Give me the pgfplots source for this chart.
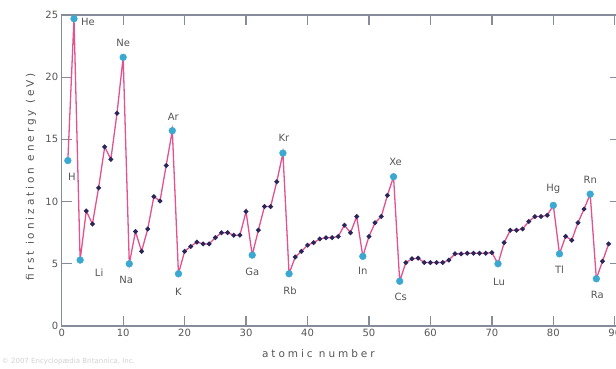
\documentclass[border=0pt]{standalone}
\usepackage{fontspec}
\setmainfont{DejaVu Sans}
\newfontfamily\spacedfont[LetterSpace=28]{DejaVu Sans}
\usepackage{pgfplots}
\pgfplotsset{compat=1.18}
\definecolor{tickgray}{HTML}{868C9A}
\definecolor{linepink}{HTML}{E2528E}
\definecolor{dotnavy}{HTML}{2A265C}
\definecolor{cyanmark}{HTML}{3AA8D0}
\definecolor{txtgray}{HTML}{555555}
\begin{document}
\begin{tikzpicture}
\begin{axis}[
  scale only axis, width=558pt, height=311pt,
  xmin=0, xmax=90.8, ymin=0, ymax=25,
  xtick={0,10,...,90}, ytick={0,5,...,25},
  xtick pos=both, ytick pos=both,
  tick align=inside,
  major tick length=10pt,
  tick style={draw=tickgray, line width=1.3pt},
  axis line style={draw=tickgray, line width=1.4pt},
  ticklabel style={font=\fontsize{10}{12}\selectfont, text=txtgray},
  /pgf/number format/assume math mode=true,
  xlabel={atomic number},
  ylabel={first ionization energy (eV)},
  xlabel style={font=\spacedfont\fontsize{10.5}{12}\selectfont, text=txtgray, at={(axis description cs:0.46,-0.09)}, anchor=center},
  ylabel style={font=\spacedfont\fontsize{10.5}{12}\selectfont, text=txtgray, at={(axis description cs:-0.055,0.48)}, anchor=center},
  clip=false,
]
\addplot[linepink, line width=1.3pt, mark=*, mark size=1.7pt, mark options={draw=dotnavy, fill=dotnavy}] coordinates {
(1,13.3) (2,24.7) (3,5.3) (4,9.25) (5,8.2) (6,11.1) (7,14.4) (8,13.4) (9,17.1) (10,21.6)
(11,5.0) (12,7.6) (13,6.0) (14,7.8) (15,10.4) (16,10.05) (17,12.9) (18,15.7) (19,4.2) (20,6.0)
(21,6.4) (22,6.75) (23,6.6) (24,6.6) (25,7.1) (26,7.5) (27,7.5) (28,7.3) (29,7.3) (30,9.2)
(31,5.7) (32,7.7) (33,9.6) (34,9.6) (35,11.6) (36,13.9) (37,4.2) (38,5.55) (39,6.0) (40,6.5)
(41,6.7) (42,7.0) (43,7.1) (44,7.1) (45,7.2) (46,8.1) (47,7.5) (48,8.8) (49,5.6) (50,7.2)
(51,8.3) (52,8.8) (53,10.5) (54,12.0) (55,3.6) (56,5.1) (57,5.4) (58,5.45) (59,5.1) (60,5.1)
(61,5.1) (62,5.1) (63,5.3) (64,5.8) (65,5.8) (66,5.85) (67,5.85) (68,5.85) (69,5.85) (70,5.9)
(71,5.0) (72,6.7) (73,7.7) (74,7.7) (75,7.8) (76,8.4) (77,8.8) (78,8.8) (79,8.9) (80,9.7)
(81,5.8) (82,7.2) (83,6.9) (84,8.3) (85,9.4) (86,10.6) (87,3.8) (88,5.2) (89,6.6)
};
\addplot[only marks, mark=*, mark size=3.4pt, mark options={draw=cyanmark, fill=cyanmark}] coordinates {
(1,13.3) (2,24.7) (3,5.3) (10,21.6) (11,5.0) (18,15.7) (19,4.2) (31,5.7) (36,13.9) (37,4.2)
(49,5.6) (54,12.0) (55,3.6) (71,5.0) (80,9.7) (81,5.8) (86,10.6) (87,3.8)
};
\tikzset{lbl/.style={font=\fontsize{10}{12}\selectfont, text=txtgray, inner sep=0pt}}
\node[lbl, xshift=4pt, yshift=-16pt] at (axis cs:1,13.3) {H};
\node[lbl, anchor=west, xshift=7pt, yshift=-3pt] at (axis cs:2,24.7) {He};
\node[lbl, yshift=14pt] at (axis cs:10,21.6) {Ne};
\node[lbl, xshift=1pt, yshift=14pt] at (axis cs:18,15.7) {Ar};
\node[lbl, xshift=1pt, yshift=15pt] at (axis cs:36,13.9) {Kr};
\node[lbl, xshift=2pt, yshift=15pt] at (axis cs:54,12.0) {Xe};
\node[lbl, yshift=16pt] at (axis cs:80,9.7) {Hg};
\node[lbl, yshift=14pt] at (axis cs:86,10.6) {Rn};
\node[lbl, xshift=19pt, yshift=-13pt] at (axis cs:3,5.3) {Li};
\node[lbl, xshift=-3pt, yshift=-16pt] at (axis cs:11,5.0) {Na};
\node[lbl, yshift=-18pt] at (axis cs:19,4.2) {K};
\node[lbl, yshift=-17pt] at (axis cs:31,5.7) {Ga};
\node[lbl, xshift=1pt, yshift=-17pt] at (axis cs:37,4.2) {Rb};
\node[lbl, yshift=-15pt] at (axis cs:49,5.6) {In};
\node[lbl, xshift=1pt, yshift=-16pt] at (axis cs:55,3.6) {Cs};
\node[lbl, xshift=1pt, yshift=-18pt] at (axis cs:71,5.0) {Lu};
\node[lbl, yshift=-16pt] at (axis cs:81,5.8) {Tl};
\node[lbl, xshift=1pt, yshift=-16pt] at (axis cs:87,3.8) {Ra};
\end{axis}
\node[anchor=west, font=\fontsize{7}{8}\selectfont, text=black!18, inner sep=0pt] at ([shift={(-60pt,-36pt)}]current axis.south west) {© 2007 Encyclopædia Britannica, Inc.};
\pgfresetboundingbox
\path[use as bounding box] ([shift={(-61.7pt,-42pt)}]current axis.south west) rectangle ([shift={(554.3pt,326pt)}]current axis.south west);
\end{tikzpicture}
\end{document}
